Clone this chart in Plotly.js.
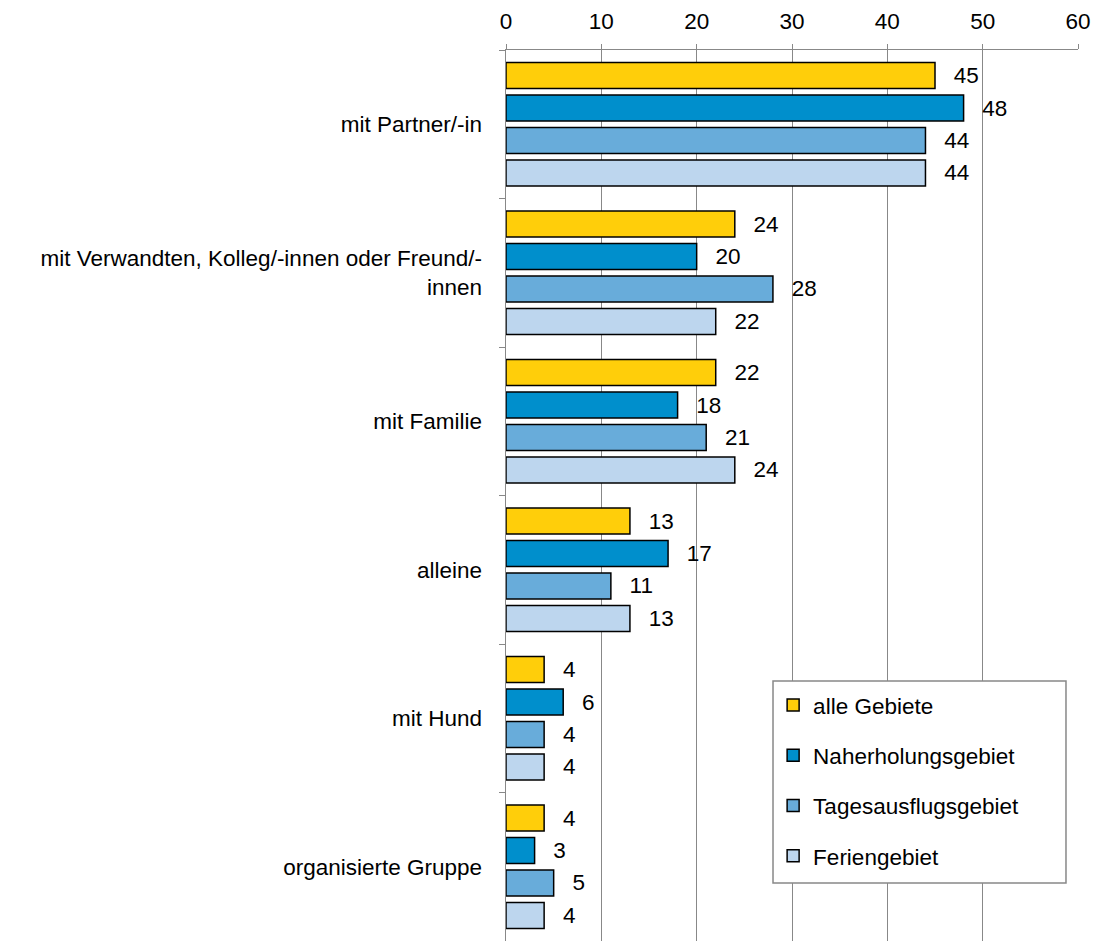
<!DOCTYPE html>
<html><head><meta charset="utf-8">
<script src="https://cdn.plot.ly/plotly-3.0.1.min.js"></script>
<style>html,body{margin:0;padding:0;background:#fff}</style>
</head><body>
<div id="chart" style="width:1099px;height:941px"></div>
<script>
const categories = ["mit Partner/-in","mit Verwandten, Kolleg/-innen oder Freund/-<br>innen","mit Familie","alleine","mit Hund","organisierte Gruppe"];
const seriesNames = ["alle Gebiete","Naherholungsgebiet","Tagesausflugsgebiet","Feriengebiet"];
const alleGebiete = [45,24,22,13,4,4];
const naherholung = [48,20,18,17,6,3];
const tagesausflug = [44,28,21,11,4,5];
const ferien = [44,22,24,13,4,4];
const colors = ["#FFCE0A","#008FCC","#68ACDA","#BDD6EE"];
const values = [alleGebiete, naherholung, tagesausflug, ferien];
const font = {family:"Liberation Sans, Arial, sans-serif", size:22.5, color:"#000"};
const traces = values.map((v,i)=>({
  type:"bar", orientation:"h", name:seriesNames[i], y:categories, x:v,
  marker:{color:colors[i], line:{color:"#000", width:1.5}},
  text:v.map(n=>"\u2002\u2009"+n), textposition:"outside", textfont:font, cliponaxis:false,
  legendgroup:"g"+i
}));
const layout = {
  width:1099, height:941,
  margin:{l:506, r:21, t:50, b:0},
  font:font,
  barmode:"group", bargap:0.125, bargroupgap:0.2,
  paper_bgcolor:"#fff", plot_bgcolor:"#fff",
  xaxis:{side:"top", range:[0,60], dtick:10, showgrid:true, gridcolor:"#888", gridwidth:1,
    showline:true, linecolor:"#888", linewidth:1.5, ticks:"outside", ticklen:5, tickcolor:"#888",
    zeroline:false, tickfont:font, mirror:false, ticklabelstandoff:6},
  yaxis:{autorange:"reversed", tickson:"boundaries", ticks:"outside", ticklen:6, tickcolor:"#888",
    showline:true, linecolor:"#888", linewidth:1.5, showgrid:false, tickfont:font, ticklabelstandoff:18},
  shapes:[{type:"rect", xref:"paper", yref:"paper", x0:0.4668, x1:0.979, y0:0.0651, y1:0.2918,
    fillcolor:"#fff", line:{color:"#888", width:1.5}, layer:"above"}],
  legend:{x:0.467, y:0.2886, xanchor:"left", yanchor:"top", borderwidth:0,
    bgcolor:"rgba(0,0,0,0)", font:font, tracegroupgap:18, traceorder:"grouped", itemwidth:30},
  showlegend:true
};
Plotly.newPlot("chart", traces, layout, {displayModeBar:false, staticPlot:true});
</script>
</body></html>
